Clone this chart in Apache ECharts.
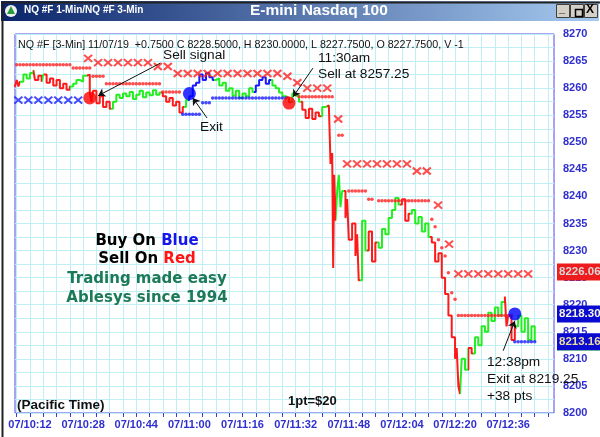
<!DOCTYPE html>
<html><head><meta charset="utf-8">
<script src="https://cdn.jsdelivr.net/npm/echarts/dist/echarts.min.js"></script>
<style>html,body{margin:0;padding:0;background:#fff}#c{width:600px;height:437px}</style>
</head><body><div id="c"></div>
<script>
// x values are minutes after 10:12 (Pacific)
const xTickValues = [-4,0,4,8,12,16,20,24,28,32,36,40,44,48,52,56,60,64,68,72,76,80,84,88,92,96,100,104,108,112,116,120,124,128,132,136,140,144,148,152,156];
const xLabelValues = [0,16,32,48,64,80,96,112,128,144];
const xLabelTexts = ['07/10:12','07/10:28','07/10:44','07/11:00','07/11:16','07/11:32','07/11:48','07/12:04','07/12:20','07/12:36'];

// price trace vertices [minute, price]
const pricePath = [
 [-4.6,8260.2],[-4,8261.5],[-3.5,8260.3],[-3,8261.2],[-2,8262.5],[-1,8261.8],[0,8262.8],[1,8263.3],
 [1.5,8261.5],[2.5,8262.3],[3.5,8261.2],[4,8262.5],[5,8261],[6,8261.8],[7,8260.5],[8,8261.5],[9,8260],
 [10,8260.8],[11,8259.7],[12,8260.3],[13,8260.8],[14,8261.5],[15,8261.2],[16,8262.3],[17,8262.5],
 [18,8259],[18.5,8257.5],[19,8259.5],[20,8257.2],[21,8258.5],[22,8256.5],[23,8257.5],[24,8256.2],
 [25,8257.5],[26,8258.8],[27,8258.2],[28,8259],[29,8258.5],[30,8259.3],[31,8258],[32,8258.8],[33,8259.5],
 [34,8258.3],[35,8259.2],[36,8258.7],[37,8259.6],[38,8258.8],[39,8259.2],[40,8258.5],[41,8257.5],[42,8258.2],
 [43,8256.8],[44,8257.5],[45,8255.5],[46,8256.5],[47,8257.8],[48,8258.5],[49,8260.5],[50,8261],[51,8262.5],
 [52,8261.5],[53,8262.8],[54,8262],[55,8261.5],[56,8261.8],[57,8260.5],[58,8261],[59,8259.5],[60,8260],
 [61,8258.6],[62,8259.5],[63,8258.2],[64,8259],[65,8258.5],[66,8260],[67,8259.3],[68,8260.5],[69,8261.5],
 [70,8262],[71,8260.8],[72,8261.5],[73,8260.5],[74,8260],[75,8259.2],[76,8258.5],[77,8258.2],[78,8257.4],
 [79,8259],[80,8258.6],[81,8257.5],[82,8256],[83,8254.5],[84,8256.2],[85,8254.3],[86,8255.5],[87,8254.8],
 [88,8256.5],[89,8256.8],[90,8256.5],[90.5,8246],[91,8248],[91.3,8226.8],[91.6,8244],[92,8235.5],
 [92.5,8241],[93,8244],[93.5,8238],[94,8241],[95,8236],[95.5,8239.5],[96,8232],[97,8235],[98,8229],
 [98.5,8233],[99,8224.5],[100,8235.5],[101,8230],[102,8233.5],[103,8228],[104,8231.5],[105,8230.5],
 [106,8234],[107,8233],[108,8236],[109,8237.5],[110,8239.7],[111,8238.5],[112,8239.5],[113,8235.5],
 [114,8236.8],[115,8237.5],[116,8235],[117,8236.2],[118,8233.5],[119,8235],[120,8232.5],[121,8231.5],
 [122,8228],[123,8229.5],[124,8225],[125,8222],[126,8218],[127,8214],[128,8210],[128.5,8212],[129,8205],
 [129.5,8203.5],[130,8210],[131,8208],[132,8212],[133,8211],[134,8214],[135,8212.5],[136,8216],[137,8215],
 [138,8218.5],[139,8217],[140,8219.5],[141,8218],[142,8220.5],[143,8221.5],[143.5,8216],[144,8218],
 [145,8213.5],[146,8216],[147,8218],[148,8215],[149,8217.5],[150,8213.5],[151,8216],[152,8213.2]
];
// colour of the trace by time range [from, to, colour]
const traceColours = [
 [-10,-3,'#ff1a1a'],[-3,1,'#22ee22'],[1,3.5,'#ff1a1a'],[3.5,4.2,'#22ee22'],[4.2,12,'#ff1a1a'],
 [12,17.3,'#22ee22'],[17.3,24.5,'#ff1a1a'],[24.5,39.5,'#22ee22'],[39.5,46.5,'#ff1a1a'],[46.5,47.6,'#22ee22'],
 [47.6,55.5,'#1a1aff'],[55.5,67.5,'#22ee22'],[67.5,72.5,'#1a1aff'],[72.5,77.5,'#22ee22'],[77.5,78.5,'#ff1a1a'],
 [78.5,81.5,'#22ee22'],[81.5,87.5,'#ff1a1a'],[87.5,89.5,'#22ee22'],[89.5,92.2,'#ff1a1a'],[92.2,94.5,'#22ee22'],
 [94.5,99.5,'#ff1a1a'],[99.5,101.5,'#22ee22'],[101.5,104.5,'#ff1a1a'],[104.5,111.5,'#22ee22'],
 [111.5,114.5,'#ff1a1a'],[114.5,120.5,'#22ee22'],[120.5,129.6,'#ff1a1a'],[129.6,132,'#22ee22'],
 [132,133.5,'#ff1a1a'],[133.5,142.6,'#22ee22'],[142.6,146.5,'#ff1a1a'],[146.5,200,'#22ee22']
];
const redCrosses = [
 [17.5,8265.5],[20.5,8264.7],[23.5,8264.7],[26.5,8264.7],[29.5,8264.7],[32.5,8264.7],[35.5,8264.7],
 [38.5,8264],[41.5,8264],[44.5,8262.7],[47.5,8262.7],[50.5,8262.7],[53.5,8262.7],[56.5,8262.7],[59.5,8262.7],
 [62.5,8262.7],[65.5,8262.7],[68.5,8262.7],[71.5,8262.7],[74.5,8262.7],[77.5,8262.2],[80.5,8261],
 [83.5,8260],[86.5,8260],[89.5,8260],[92.8,8254.3],[95.5,8246],[98.5,8246],[101.5,8246],[104.5,8246],
 [107.5,8246],[110.5,8246],[113.5,8246],[116.5,8244.7],[119.5,8244.7],[122.9,8238.4],[126.2,8231.2],
 [129,8225.7],[132,8225.7],[135,8225.7],[138,8225.7],[141,8225.7],[144,8225.7],[147,8225.7],[150,8225.7]
];
const blueCrosses = [[-3.5,8257.8],[-0.5,8257.8],[2.5,8257.8],[5.5,8257.8],[8.5,8257.8],[11.5,8257.8],[14.5,8257.8]];
const redDots = [
 [-4,8264.3],[-3,8264.3],[-2,8264.3],[-1,8264.3],[0,8264.3],[1,8264.3],[2,8264.3],[3,8264.3],[4,8264.3],
 [5,8264.3],[6,8264.3],[7,8264.3],[8,8264.3],[9,8264.3],[10,8264.3],[11,8264.3],[12,8264.3],
 [13,8263.7],[14,8263.7],[15,8263.7],[16,8263.7],[17,8263.7],[18,8263.7],
 [19,8262.2],[20,8262.2],[21,8262.2],[22,8262.2],
 [23,8260.8],[24,8260.8],[25,8260.8],[26,8260.8],[27,8260.8],[28,8260.8],[29,8260.8],[30,8260.8],[31,8260.8],
 [32,8260.8],[33,8260.8],[34,8260.8],[35,8260.8],[36,8260.8],[37,8260.8],[38,8260.8],[39,8260.8],
 [40,8259.3],[41,8259.3],[42,8259.3],[43,8259.3],[44,8259.3],[45,8259.3],
 [81,8258.4],[82,8258.4],[83,8258.4],[84,8258.4],[85,8258.4],[86,8258.4],[87,8258.4],[88,8258.4],[89,8258.4],
 [90,8258.4],[91,8258.4],[93,8251.3],[94,8251.3],
 [96,8241],[97,8241],[98,8241],[99,8241],[100,8241],[101,8241],[102,8239.5],[103,8239.5],
 [105,8239.2],[106,8239.2],[107,8239.2],[108,8239.2],[109,8239.2],[110,8239.2],[111,8239.2],[112,8239.2],
 [113,8239.2],[114,8239.2],[115,8239.2],[116,8239.2],[117,8239.2],[118,8239.2],[119,8239.2],[120,8239.2],
 [121,8235.8],[122,8234.4],[123,8232],[124,8230.5],[125,8229],[126,8225.9],[127,8222.2],[128,8221],
 [129,8218],[130,8218],[131,8218],[132,8218],[133,8218],[134,8218],[135,8218],[136,8218],[137,8218],
 [138,8218],[139,8218],[140,8218],[141,8218],[142,8218],[143,8218],[144,8218],[145,8218]
];
const blueDots = [
 [46,8255.2],[47,8255.2],[48,8255.2],[49,8255.2],[50,8255.2],[51,8255.2],
 [52,8257.3],[53,8257.3],[54,8257.3],
 [55,8258.2],[56,8258.2],[57,8258.2],[58,8258.2],[59,8258.2],[60,8258.2],[61,8258.2],[62,8258.2],[63,8258.2],
 [64,8258.2],[65,8258.2],[66,8258.2],[67,8258.2],[68,8258.2],[69,8258.2],[70,8258.2],[71,8258.2],[72,8258.2],
 [73,8258.2],[74,8258.2],[75,8258.2],[76,8258.2],[77,8258.2],
 [146,8213.16],[147,8213.16],[148,8213.16],[149,8213.16],[150,8213.16],[151,8213.16],[152,8213.16]
];
const sellSignals = [[18,8258.2],[78,8257.25]];
const exitSignals = [[48,8259],[146,8218.3]];
const arrowFrom = [[39.2,8264.6],[53.3,8254.5],[85.2,8263.7],[142.5,8211.5]];
const arrowTo = [[20.5,8258.6],[49,8258.2],[79.2,8258.4],[146,8217]];
const priceTags = [8226.06, 8218.30, 8213.16];

const FONT = "'Liberation Sans', Arial, sans-serif";
const PROMO = "'DejaVu Sans', Verdana, sans-serif";
const chart = echarts.init(document.getElementById('c'), null, {renderer:'canvas'});
const crossPath = 'path://M0,0L8,7M8,0L0,7';

const option = {
  animation:false,
  backgroundColor:'#ffffff',
  grid:{left:15,right:46,top:34,bottom:24,show:true,borderColor:'#4a4ae6',borderWidth:1,backgroundColor:'#ffffff'},
  xAxis:{type:'value',min:-4.52,max:157.8,
    axisLine:{show:false},
    axisTick:{show:true,customValues:xTickValues,length:4,lineStyle:{color:'#3a3ad8'}},
    axisLabel:{customValues:xLabelValues,color:'#2f2fd0',fontWeight:'bold',fontSize:11,fontFamily:FONT,margin:6,
      formatter:v=>xLabelTexts[xLabelValues.indexOf(v)]||''},
    splitLine:{show:true,lineStyle:{color:'#c0f0f6',width:1}}},
  yAxis:{type:'value',position:'right',min:8200,max:8270,interval:2.5,
    axisLine:{show:false},axisTick:{show:false},
    axisLabel:{color:'#2f2fd0',fontWeight:'bold',fontSize:11,fontFamily:FONT,margin:9,
      formatter:v=>(Math.round(v*10)%50===0)?String(v):''},
    splitLine:{show:true,lineStyle:{color:'#c0f0f6',width:1}}},
  visualMap:{show:false,type:'piecewise',dimension:0,seriesIndex:0,
    pieces:traceColours.map(c=>({gte:c[0],lt:c[1],color:c[2]}))},
  series:[
    {type:'line',data:pricePath,step:'end',showSymbol:false,lineStyle:{width:2},z:3,silent:true},
    {type:'scatter',data:redDots,symbol:'circle',symbolSize:3.5,itemStyle:{color:'#ff2020'},z:4},
    {type:'scatter',data:blueDots,symbol:'circle',symbolSize:3.5,itemStyle:{color:'#1a1aff'},z:4},
    {type:'scatter',data:redCrosses,symbol:crossPath,symbolSize:[8,7],itemStyle:{color:'none',borderColor:'#ff2020',borderWidth:2},z:4},
    {type:'scatter',data:blueCrosses,symbol:crossPath,symbolSize:[8,7],itemStyle:{color:'none',borderColor:'#1a1aff',borderWidth:2},z:4},
    {type:'scatter',data:sellSignals,symbol:'circle',symbolSize:13,itemStyle:{color:'#ff0000'},z:5},
    {type:'scatter',data:exitSignals,symbol:'circle',symbolSize:13,itemStyle:{color:'#0000ff'},z:5},
    {type:'line',data:[],z:6,markLine:{silent:true,animation:false,symbol:['none','arrow'],symbolSize:7,
      lineStyle:{color:'#111',width:1,type:'solid'},label:{show:false},
      data:arrowFrom.map((f,i)=>[{coord:f},{coord:arrowTo[i]}])}},
    {type:'line',data:[],z:7,markLine:{silent:true,animation:false,symbol:'none',
      lineStyle:{color:'rgba(0,0,0,0)',width:1,type:'solid'},
      label:{show:true,position:'end',distance:3,fontWeight:'bold',fontSize:11.5,fontFamily:FONT,padding:[3,3,2,2]},
      data:[
        {yAxis:priceTags[2]-1.35,label:{formatter:'\u00a0',fontSize:3,lineHeight:3,padding:[0,22,0,22],backgroundColor:'#22dd22'}},
        {yAxis:priceTags[0],label:{formatter:priceTags[0].toFixed(2),backgroundColor:'#ee1c1c',color:'#d8d8d8'}},
        {yAxis:priceTags[1],label:{formatter:priceTags[1].toFixed(2),backgroundColor:'#0a0ad0',color:'#f4f4e0'}},
        {yAxis:priceTags[2],label:{formatter:priceTags[2].toFixed(2),backgroundColor:'#0a0ad0',color:'#e8dca0'}}
      ]}}
  ],
  graphic:[
    {type:'rect',left:0,top:0,shape:{width:600,height:437},style:{fill:'none',stroke:'#222',lineWidth:2},z:100},
    {type:'rect',left:1,top:1,shape:{width:598,height:20},style:{fill:new echarts.graphic.LinearGradient(0,0,1,0,[{offset:0,color:'#0a246a'},{offset:1,color:'#a6caf0'}])},z:50},
    {type:'circle',shape:{cx:11,cy:11,r:6},style:{fill:'#f0f0f0'},z:51},
    {type:'polygon',shape:{points:[[11,6],[15,14],[7,14]]},style:{fill:'#2a9a3a'},z:52},
    {type:'text',left:24,top:5,style:{text:'NQ #F 1-Min/NQ #F 3-Min',fill:'#fff',font:'bold 10px '+FONT},z:51},
    {type:'text',left:250,top:3,style:{text:'E-mini Nasdaq 100',fill:'#fff',font:'bold 15.5px '+FONT},z:51},
    {type:'rect',left:556,top:4,shape:{width:13,height:13},style:{fill:'#d4d0c8',stroke:'#404040',lineWidth:1},z:51},
    {type:'rect',left:570,top:4,shape:{width:13,height:13},style:{fill:'#d4d0c8',stroke:'#404040',lineWidth:1},z:51},
    {type:'rect',left:584,top:4,shape:{width:13,height:13},style:{fill:'#d4d0c8',stroke:'#404040',lineWidth:1},z:51},
    {type:'text',left:559,top:3,style:{text:'_',fill:'#000',font:'bold 11px '+FONT},z:52},
    {type:'rect',left:573,top:7,shape:{width:7,height:7},style:{fill:'none',stroke:'#000',lineWidth:1.5},z:52},
    {type:'text',left:586,top:4,style:{text:'X',fill:'#000',font:'bold 12px '+FONT},z:52},
    {type:'text',left:18,top:40,style:{text:'NQ #F [3-Min] 11/07/19  +0.7500 C 8228.5000, H 8230.0000, L 8227.7500, O 8227.7500, V -1',fill:'#111',font:'10.7px '+FONT},z:60},
    {type:'text',left:163,top:48,style:{text:'Sell signal',fill:'#111',font:'13.7px '+FONT},z:60},
    {type:'text',left:318,top:51,style:{text:'11:30am',fill:'#111',font:'13.7px '+FONT},z:60},
    {type:'text',left:318,top:67,style:{text:'Sell at 8257.25',fill:'#111',font:'13.7px '+FONT},z:60},
    {type:'text',left:200,top:120,style:{text:'Exit',fill:'#111',font:'13.7px '+FONT},z:60},
    {type:'text',left:487,top:355,style:{text:'12:38pm',fill:'#111',font:'13.7px '+FONT},z:60},
    {type:'text',left:487,top:372,style:{text:'Exit at 8219.25',fill:'#111',font:'13.7px '+FONT},z:60},
    {type:'text',left:487,top:389,style:{text:'+38 pts',fill:'#111',font:'13.7px '+FONT},z:60},
    {type:'text',x:147,y:241,style:{text:'{k|Buy On }{b|Blue}',align:'center',verticalAlign:'middle',font:'bold 15px '+PROMO,
      rich:{k:{fill:'#000',font:'bold 15px '+PROMO},b:{fill:'#1515ee',font:'bold 15px '+PROMO}}},z:60},
    {type:'text',x:147,y:259,style:{text:'{k|Sell On }{r|Red}',align:'center',verticalAlign:'middle',font:'bold 15px '+PROMO,
      rich:{k:{fill:'#000',font:'bold 15px '+PROMO},r:{fill:'#ff1515',font:'bold 15px '+PROMO}}},z:60},
    {type:'text',x:147,y:279,style:{text:'Trading made easy',align:'center',verticalAlign:'middle',fill:'#1d7a58',font:'bold 15px '+PROMO},z:60},
    {type:'text',x:147,y:298,style:{text:'Ablesys since 1994',align:'center',verticalAlign:'middle',fill:'#1d7a58',font:'bold 15px '+PROMO},z:60},
    {type:'text',left:17,top:398,style:{text:'(Pacific Time)',fill:'#111',font:'bold 13.5px '+FONT},z:60},
    {type:'text',left:288,top:395,style:{text:'1pt=$20',fill:'#111',font:'bold 13px '+FONT},z:60}
  ]
};
chart.setOption(option);
</script></body></html>
